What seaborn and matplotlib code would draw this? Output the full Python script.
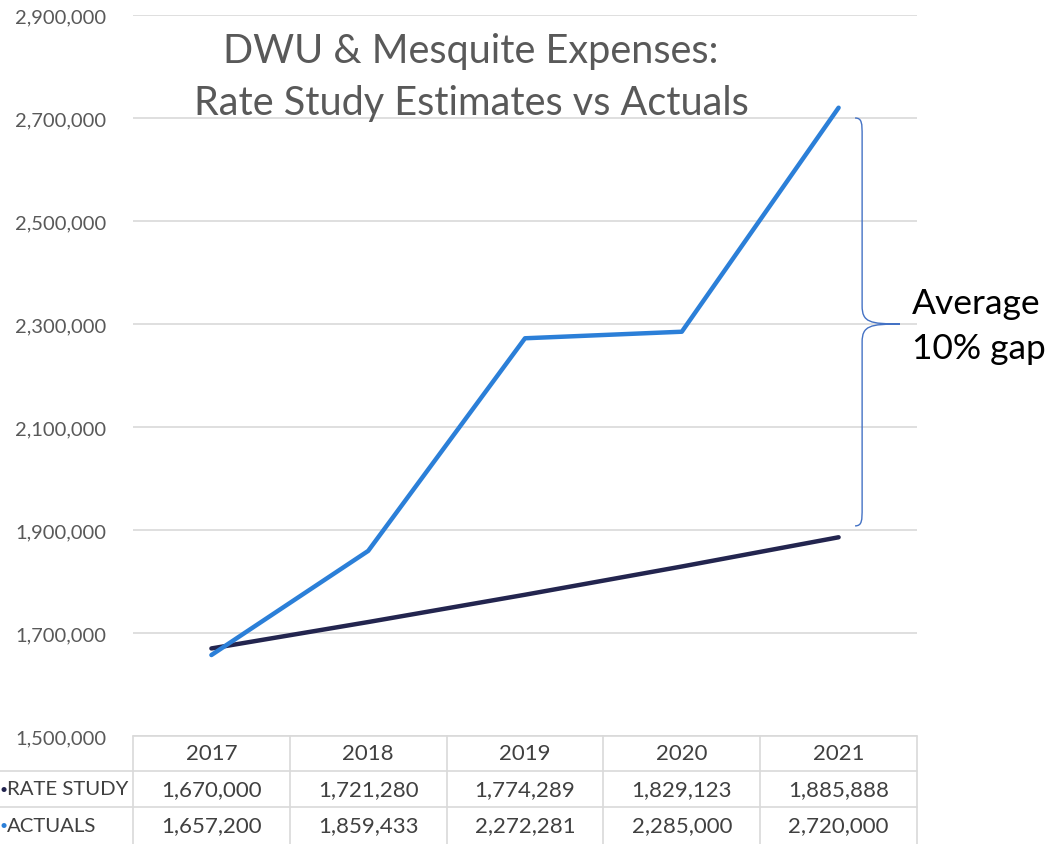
import matplotlib
matplotlib.use("Agg")
import matplotlib.pyplot as plt
import matplotlib.transforms as mtransforms
from matplotlib.path import Path
from matplotlib.patches import PathPatch
import seaborn as sns
import pandas as pd

# ---- data ----
years = ["2017", "2018", "2019", "2020", "2021"]
rate_study = [1670000, 1721280, 1774289, 1829123, 1885888]
actuals = [1657200, 1859433, 2272281, 2285000, 2720000]
series_names = ["RATE STUDY", "ACTUALS"]
y_ticks = [1500000, 1700000, 1900000, 2100000, 2300000, 2500000, 2700000, 2900000]
title = "DWU & Mesquite Expenses:\nRate Study Estimates vs Actuals"
note = "Average\n10% gap"
brace_top, brace_mid, brace_bottom = 2700000, 2300000, 1908000

colors = {"RATE STUDY": "#23254F", "ACTUALS": "#2B7FD8"}

sns.set_theme(style="white")
plt.rcParams["font.family"] = ["Lato", "DejaVu Sans"]

W, H = 1047, 845
fig = plt.figure(figsize=(W / 100, H / 100), dpi=100)
ax = fig.add_axes([133 / W, 1 - 737 / H, 784 / W, 721 / H])

df = pd.DataFrame({
    "idx": list(range(len(years))) * 2,
    "value": rate_study + actuals,
    "series": [series_names[0]] * len(years) + [series_names[1]] * len(years),
})
sns.lineplot(data=df, x="idx", y="value", hue="series", palette=colors,
             linewidth=3.2, ax=ax, legend=False, sort=False)

ax.set_xlim(-0.5, len(years) - 0.5)
ax.set_ylim(y_ticks[0], y_ticks[-1])
ax.set_yticks(y_ticks)
ax.set_yticklabels([f"{v:,}" for v in y_ticks], fontsize=14.5, color="#595959")
ax.tick_params(axis="y", length=0, pad=19)
ax.set_xticks([])
ax.set_xlabel("")
ax.set_ylabel("")
ax.yaxis.grid(True, color="#D9D9D9", linewidth=1.2)
ax.set_axisbelow(True)
for s in ax.spines.values():
    s.set_visible(False)

# title
ax.text(0.431, 0.915, title, transform=ax.transAxes, ha="center", va="center",
        fontsize=28.5, color="#595959", linespacing=1.5)

# brace annotation
bx = 4.15
tipx = 4.39
cx = 0.045
d = 0.025 * (y_ticks[-1] - y_ticks[0])
verts = [
    (bx - cx, brace_top),
    (bx, brace_top), (bx, brace_top - d * 0.3), (bx, brace_top - d),
    (bx, brace_mid + d),
    (bx, brace_mid + d * 0.1), (bx + 0.05, brace_mid), (tipx, brace_mid),
    (bx + 0.05, brace_mid), (bx, brace_mid - d * 0.1), (bx, brace_mid - d),
    (bx, brace_bottom + d),
    (bx, brace_bottom + d * 0.3), (bx, brace_bottom), (bx - cx, brace_bottom),
]
codes = [Path.MOVETO,
         Path.CURVE4, Path.CURVE4, Path.CURVE4,
         Path.LINETO,
         Path.CURVE4, Path.CURVE4, Path.CURVE4,
         Path.CURVE4, Path.CURVE4, Path.CURVE4,
         Path.LINETO,
         Path.CURVE4, Path.CURVE4, Path.CURVE4]
ax.add_patch(PathPatch(Path(verts, codes), facecolor="none", edgecolor="#4472C4",
                       linewidth=1.0, clip_on=False))
ax.text(4.47, brace_mid - 0.002 * (y_ticks[-1] - y_ticks[0]), note, ha="left", va="center",
        fontsize=25.5, color="black", linespacing=1.52, clip_on=False)

# data table below the plot
trans = mtransforms.blended_transform_factory(ax.transData, ax.transAxes)
ah = 721.0
row_edges = [0, -35 / ah, -71 / ah, -108 / ah]
grid_c = "#D9D9D9"
ax.plot([-0.5, len(years) - 0.5], [0, 0], transform=trans, color=grid_c, lw=1.2, clip_on=False)
for yy in row_edges[1:3]:
    ax.plot([0, 917 / W], [1 - (737 - yy * ah) / H] * 2, transform=fig.transFigure,
            color=grid_c, lw=1.2, clip_on=False)
for i in range(len(years) + 1):
    ax.plot([i - 0.5, i - 0.5], [row_edges[0], row_edges[-1]], transform=trans,
            color=grid_c, lw=1.2, clip_on=False)
tbl_fs = 16
tbl_c = "#404040"
hdr_y = (row_edges[0] + row_edges[1]) / 2
r1_y = (row_edges[1] + row_edges[2]) / 2
r2_y = (row_edges[2] + row_edges[3]) / 2
for i, yr in enumerate(years):
    ax.text(i, hdr_y, yr, transform=trans, ha="center", va="center", fontsize=tbl_fs, color=tbl_c)
    ax.text(i, r1_y, f"{rate_study[i]:,}", transform=trans, ha="center", va="center",
            fontsize=tbl_fs, color=tbl_c)
    ax.text(i, r2_y, f"{actuals[i]:,}", transform=trans, ha="center", va="center",
            fontsize=tbl_fs, color=tbl_c)
for name, yy in zip(series_names, [r1_y, r2_y]):
    fy = 1 - (737 - yy * ah) / H
    fig.text(3.5 / W, fy, "•", ha="center", va="center", fontsize=10, color=colors[name])
    fig.text(7 / W, fy, name, ha="left", va="center", fontsize=14.7, color=tbl_c)

fig.savefig("out.png", dpi=100)
